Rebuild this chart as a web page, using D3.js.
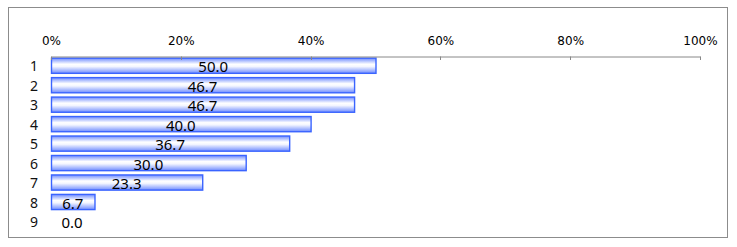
<!DOCTYPE html>
<html>
<head>
<meta charset="utf-8">
<script src="https://cdn.jsdelivr.net/npm/d3@7"></script>
<style>
  body { margin: 0; background: #fff; }
  svg { display: block; }
</style>
</head>
<body>
<div id="chart"></div>
<script>
// Chart data
const categories = ['1', '2', '3', '4', '5', '6', '7', '8', '9'];
const values = [50.0, 46.7, 46.7, 40.0, 36.7, 30.0, 23.3, 6.7, 0.0];
const tickValues = [0, 20, 40, 60, 80, 100];

const W = 737, H = 247;

const svg = d3.select('#chart')
    .append('svg')
    .attr('width', W)
    .attr('height', H);

// outer frame
svg.append('rect')
    .attr('x', 8.5)
    .attr('y', 7.5)
    .attr('width', 719)
    .attr('height', 230)
    .attr('fill', '#fff')
    .attr('stroke', '#8c8c8c')
    .attr('stroke-width', 1);

// bar gradient (cylinder look)
const grad = svg.append('defs')
    .append('linearGradient')
    .attr('id', 'barGrad')
    .attr('x1', 0).attr('y1', 0)
    .attr('x2', 0).attr('y2', 1);
grad.append('stop').attr('offset', '0%').attr('stop-color', '#6f8cff');
grad.append('stop').attr('offset', '40%').attr('stop-color', '#ffffff');
grad.append('stop').attr('offset', '55%').attr('stop-color', '#f4f6ff');
grad.append('stop').attr('offset', '100%').attr('stop-color', '#6f8cff');

const x = d3.scaleLinear()
    .domain([0, 100])
    .range([51, 700]);

const y = d3.scaleBand()
    .domain(categories)
    .range([55.5, 230.7])
    .paddingInner(0.22)
    .paddingOuter(0.11);

// bars
svg.selectAll('.bar')
    .data(values.map((v, i) => ({cat: categories[i], v})))
    .enter()
    .filter(d => d.v > 0)
    .append('rect')
    .attr('class', 'bar')
    .attr('x', x(0) + 0.5)
    .attr('y', d => y(d.cat) + 0.5)
    .attr('width', d => x(d.v) - x(0))
    .attr('height', y.bandwidth())
    .attr('fill', 'url(#barGrad)')
    .attr('stroke', '#3a64ff')
    .attr('stroke-width', 1.4);

// top axis
const axis = d3.axisTop(x)
    .tickValues(tickValues)
    .tickFormat(d => d + '%')
    .tickSize(0)
    .tickPadding(12);

const gAxis = svg.append('g')
    .attr('transform', 'translate(0,56.5)')
    .call(axis);
gAxis.select('.domain').attr('stroke', '#888');
gAxis.selectAll('.tick text')
    .attr('fill', '#000')
    .style('font-family', '"DejaVu Sans", sans-serif')
    .style('font-size', '12px');

// small ticks pointing down
svg.selectAll('.tickmark')
    .data(tickValues)
    .enter()
    .append('line')
    .attr('x1', d => Math.round(x(d)) + 0.5)
    .attr('x2', d => Math.round(x(d)) + 0.5)
    .attr('y1', 56.5)
    .attr('y2', 60)
    .attr('stroke', '#888');

// category labels
svg.selectAll('.cat')
    .data(categories)
    .enter()
    .append('text')
    .attr('x', 34)
    .attr('y', d => y(d) + y.bandwidth() - 1.5)
    .attr('text-anchor', 'middle')
    .style('font-family', '"Noto Sans", sans-serif')
    .style('font-size', '14px')
    .attr('fill', '#111')
    .text(d => d);

// value labels
svg.selectAll('.val')
    .data(values.map((v, i) => ({cat: categories[i], v})))
    .enter()
    .append('text')
    .attr('x', d => Math.max((x(0) + x(d.v)) / 2, x(0) + 21))
    .attr('y', d => y(d.cat) + y.bandwidth() - 0.5)
    .attr('text-anchor', 'middle')
    .style('font-family', '"Noto Sans", sans-serif')
    .style('font-size', '15px')
    .attr('fill', '#000')
    .text(d => d.v.toFixed(1));
</script>
</body>
</html>
